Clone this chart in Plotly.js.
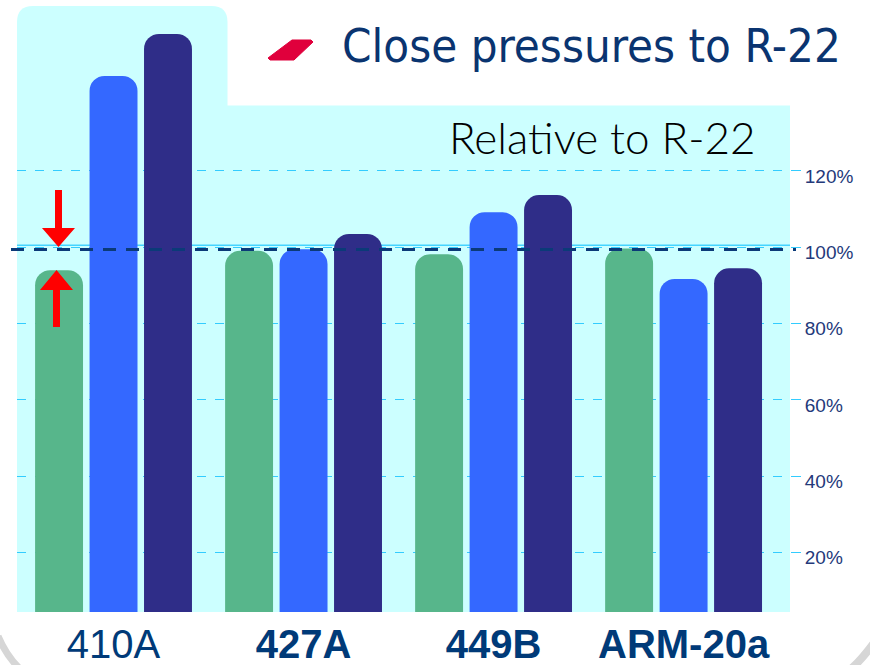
<!DOCTYPE html>
<html>
<head>
<meta charset="utf-8">
<script src="https://cdn.plot.ly/plotly-3.0.1.min.js"></script>
<style>
  html, body { margin: 0; padding: 0; background: #ffffff; }
  #chart { width: 870px; height: 665px; }
</style>
</head>
<body>
<div id="chart"></div>
<script>
// ---- data ----
const categories = ['410A', '427A', '449B', 'ARM-20a'];
const categoryLabels = ['410A', '<b>427A</b>', '<b>449B</b>', '<b>ARM-20a</b>'];
const seriesGreen = [94.0, 99.1, 98.2, 99.7];
const seriesBlue = [144.9, 99.5, 109.2, 91.7];
const seriesDark = [155.9, 103.5, 113.7, 94.5];
const yTickVals = [20, 40, 60, 80, 100, 120];
const yTickText = ['20%', '40%', '60%', '80%', '100%', '120%'];
const referenceLevel = 99.4;

// ---- pixel -> paper helpers (plot area: x 17..790, y 5..612) ----
const L = 17, R = 790, T = 5, B = 612;
const PX = x => (x - L) / (R - L);
const PY = y => (B - y) / (B - T);
function path(pts, close) {
  let s = 'M ' + pts.map(p => PX(p[0]).toFixed(5) + ' ' + PY(p[1]).toFixed(5)).join(' L ');
  return close ? s + ' Z' : s;
}

const colors = ['#57b68b', '#3468ff', '#2f2d88'];
const names = ['Series 1', 'Series 2', 'Series 3'];
const values = [seriesGreen, seriesBlue, seriesDark];

const traces = values.map((v, i) => ({
  type: 'bar',
  x: categories,
  y: v,
  name: names[i],
  marker: { color: colors[i], cornerradius: 15, line: { width: 0 } },
  hoverinfo: 'x+y'
}));

// rounded top-left panel path
function roundedTopPanel(x0, y0, x1, y1, r) {
  const p = (x, y) => PX(x).toFixed(5) + ' ' + PY(y).toFixed(5);
  return 'M ' + p(x0, y1) + ' L ' + p(x0, y0 + r) +
    ' Q ' + p(x0, y0) + ' ' + p(x0 + r, y0) +
    ' L ' + p(x1 - r, y0) +
    ' Q ' + p(x1, y0) + ' ' + p(x1, y0 + r) +
    ' L ' + p(x1, y1) + ' Z';
}

const shapes = [
  // cyan backgrounds
  { type: 'rect', xref: 'paper', yref: 'paper', x0: PX(17), x1: PX(790), y0: PY(612), y1: PY(105.5),
    fillcolor: '#ccffff', line: { width: 0 }, layer: 'below' },
  { type: 'path', xref: 'paper', yref: 'paper', path: roundedTopPanel(17, 6, 227.5, 106, 16),
    fillcolor: '#ccffff', line: { width: 0 }, layer: 'below' },
  // solid cyan line near 100%
  { type: 'line', xref: 'paper', yref: 'paper', x0: PX(17), x1: PX(790), y0: PY(245.3), y1: PY(245.3),
    line: { color: '#45d4ff', width: 1.5 }, layer: 'between' },
  // navy dashed reference line
  { type: 'line', xref: 'paper', yref: 'y', x0: PX(11), x1: PX(796), y0: referenceLevel, y1: referenceLevel,
    line: { color: '#0b3a78', width: 3, dash: '13px,10px' }, layer: 'above' },
  // red arrows
  { type: 'path', xref: 'paper', yref: 'paper',
    path: path([[55, 190], [62, 190], [62, 228], [75, 228], [58.5, 247], [42, 228], [55, 228]], true),
    fillcolor: '#ff0000', line: { width: 0 }, layer: 'above' },
  { type: 'path', xref: 'paper', yref: 'paper',
    path: path([[53, 327], [60, 327], [60, 290], [73, 290], [56.5, 270], [40, 290], [53, 290]], true),
    fillcolor: '#ff0000', line: { width: 0 }, layer: 'above' },
  // red bullet
  { type: 'path', xref: 'paper', yref: 'paper',
    path: path([[292, 40], [311, 40], [313, 42], [294, 60], [270, 60], [268, 58]], true),
    fillcolor: '#e0003c', line: { color: '#e0003c', width: 1 }, layer: 'above' },
  // grey frame corners
  { type: 'path', xref: 'paper', yref: 'paper',
    path: 'M ' + PX(-2) + ' ' + PY(636) + ' Q ' + PX(6) + ' ' + PY(655) + ' ' + PX(19) + ' ' + PY(668),
    line: { color: '#d6d6d6', width: 7 }, layer: 'above' },
  { type: 'path', xref: 'paper', yref: 'paper',
    path: 'M ' + PX(851) + ' ' + PY(669) + ' Q ' + PX(862) + ' ' + PY(659) + ' ' + PX(873) + ' ' + PY(644),
    line: { color: '#d6d6d6', width: 8 }, layer: 'above' }
];

const annotations = [
  { xref: 'paper', yref: 'paper', x: PX(340), y: PY(46), xanchor: 'left', yanchor: 'middle',
    text: 'Close pressures to R-22', showarrow: false,
    font: { family: 'DejaVu Sans Condensed, DejaVu Sans, sans-serif', size: 47, color: '#0a3470' } },
  { xref: 'paper', yref: 'paper', x: PX(447), y: PY(137), xanchor: 'left', yanchor: 'middle',
    text: 'Relative to R-22', showarrow: false,
    font: { family: 'Lato, sans-serif', size: 44, weight: 300, color: '#000000' } }
];

const layout = {
  width: 870, height: 665,
  margin: { l: L, r: 870 - R, t: T, b: 665 - B, pad: 0 },
  paper_bgcolor: '#ffffff',
  plot_bgcolor: 'rgba(0,0,0,0)',
  showlegend: false,
  barmode: 'group',
  bargap: 0.14,
  bargroupgap: 0.12,
  xaxis: {
    type: 'category',
    range: [-0.508, 3.56],
    tickvals: categories,
    ticktext: categoryLabels,
    showgrid: false, zeroline: false, showline: false, ticks: '',
    tickfont: { family: 'Liberation Sans, Arial, sans-serif', size: 40, color: '#003a78' },
    ticklabelstandoff: 5
  },
  yaxis: {
    side: 'right',
    range: [4.454, 163.48],
    tickvals: yTickVals,
    ticktext: yTickText,
    showgrid: true, gridcolor: '#33ccff', gridwidth: 1, griddash: 'dash',
    zeroline: false, showline: false,
    ticks: 'outside', ticklen: 10, tickcolor: '#33ccff', tickwidth: 1,
    ticklabelshift: 5,
    tickfont: { family: 'Liberation Sans, Arial, sans-serif', size: 19, color: '#24397a' }
  },
  shapes: shapes,
  annotations: annotations
};

Plotly.newPlot('chart', traces, layout, { displayModeBar: false, staticPlot: true });
</script>
</body>
</html>
